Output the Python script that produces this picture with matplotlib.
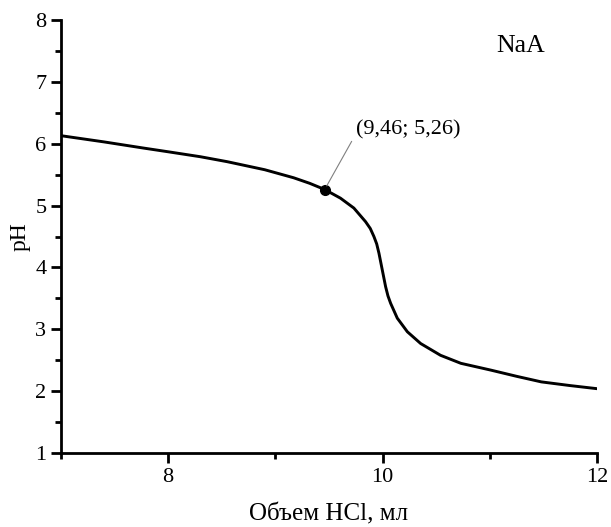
import matplotlib.pyplot as plt
from matplotlib.ticker import MultipleLocator

plt.rcParams['font.family'] = ['Liberation Serif', 'DejaVu Serif']

# titration curve
volume = [7.0, 7.4, 7.77, 8.0, 8.3, 8.55, 8.9, 9.17, 9.32, 9.46, 9.607, 9.732, 9.841,
          9.885, 9.919, 9.945, 9.966, 9.997, 10.028, 10.05, 10.075, 10.137, 10.231,
          10.355, 10.54, 10.73, 11.01, 11.25, 11.48, 11.75, 12.0]
ph = [6.13, 6.03, 5.93, 5.87, 5.79, 5.71, 5.58, 5.45, 5.36, 5.26, 5.12, 4.96, 4.74,
      4.63, 4.50, 4.38, 4.23, 3.96, 3.69, 3.54, 3.42, 3.18, 2.96,
      2.77, 2.58, 2.45, 2.34, 2.24, 2.15, 2.09, 2.04]
point_x = 9.46
point_y = 5.26
point_label = '(9,46; 5,26)'

fig = plt.figure(figsize=(6.11, 5.27), dpi=100)
ax = fig.add_axes([0.0998, 0.1404, 0.8773, 0.8216])
ax.plot(volume, ph, color='black', lw=2.1, solid_joinstyle='round')
ax.plot([point_x], [point_y], 'o', color='black', ms=7)
ax.annotate(point_label, xy=(point_x, point_y), xytext=(9.75, 6.22),
            fontsize=16, va='center', ha='left',
            arrowprops=dict(arrowstyle='-', color='gray', lw=0.8, shrinkA=2, shrinkB=3,
                            relpos=(0, 0.3)))
ax.text(11.29, 7.58, 'NaA', fontsize=18.5, ha='center', va='center')

ax.set_xlim(7, 12)
ax.set_ylim(1, 8)
ax.xaxis.set_major_locator(MultipleLocator(2))
ax.xaxis.set_minor_locator(MultipleLocator(1))
ax.yaxis.set_major_locator(MultipleLocator(1))
ax.yaxis.set_minor_locator(MultipleLocator(0.5))
ax.spines['top'].set_visible(False)
ax.spines['right'].set_visible(False)
for s in ['left', 'bottom']:
    ax.spines[s].set_linewidth(2)
ax.tick_params(which='major', length=7, width=2, labelsize=16, direction='out')
ax.tick_params(which='minor', length=4, width=2, direction='out')
ax.set_xlabel('Объем HCl, мл', fontsize=18, labelpad=12)
ax.set_ylabel('pH', fontsize=17, labelpad=3)

fig.savefig('out.png', dpi=100)
